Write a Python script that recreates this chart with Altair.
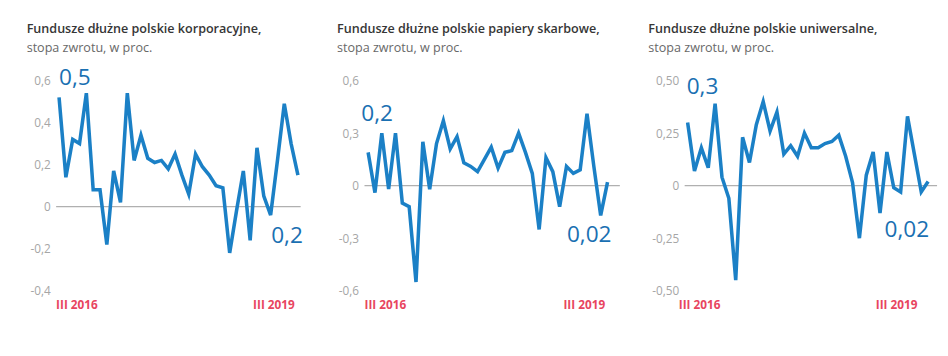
import altair as alt
import pandas as pd

# ---- data ----
titles = [
    "Fundusze dłużne polskie korporacyjne,",
    "Fundusze dłużne polskie papiery skarbowe,",
    "Fundusze dłużne polskie uniwersalne,",
]
subtitle = "stopa zwrotu, w proc."

korporacyjne = [0.52, 0.14, 0.32, 0.30, 0.54, 0.08, 0.08, -0.18, 0.17, 0.02,
                0.54, 0.22, 0.34, 0.23, 0.21, 0.22, 0.18, 0.25, 0.15, 0.06,
                0.25, 0.19, 0.15, 0.10, 0.09, -0.22, -0.02, 0.17, -0.16, 0.28,
                0.05, -0.04, 0.22, 0.49, 0.30, 0.15]
skarbowe = [0.19, -0.04, 0.30, -0.02, 0.30, -0.10, -0.12, -0.55, 0.25, -0.02,
            0.24, 0.37, 0.21, 0.28, 0.13, 0.11, 0.08, 0.15, 0.22, 0.10,
            0.19, 0.20, 0.30, 0.19, 0.07, -0.25, 0.16, 0.08, -0.12, 0.11,
            0.07, 0.09, 0.41, 0.11, -0.17, 0.02]
uniwersalne = [0.30, 0.07, 0.18, 0.085, 0.39, 0.04, -0.06, -0.45, 0.23, 0.11,
               0.29, 0.40, 0.26, 0.35, 0.15, 0.19, 0.14, 0.25, 0.18, 0.18,
               0.20, 0.21, 0.24, 0.14, 0.015, -0.25, 0.05, 0.16, -0.13, 0.16,
               -0.01, -0.03, 0.33, 0.15, -0.03, 0.02]

ticks_1 = [-0.4, -0.2, 0, 0.2, 0.4, 0.6]
ticks_2 = [-0.6, -0.3, 0, 0.3, 0.6]
ticks_3 = [-0.5, -0.25, 0, 0.25, 0.5]

first_labels = ["0,5", "0,2", "0,3"]
first_label_values = [0.61, 0.41, 0.47]
last_labels = ["0,2", "0,02", "0,02"]
last_label_values = [-0.14, -0.28, -0.21]

period_start = "III 2016"
period_end = "III 2019"

# ---- styles ----
BLUE = "#1b80c6"
LABEL_BLUE = "#1a70b2"
RED = "#e8455f"
TICK_GREY = "#a6a6a6"
HEIGHT = 214
FONT = "Open Sans"

panel_styles = [
    dict(width=249, xdom=[-0.43, 35.4], ydom=[-0.4, 0.6], dec=1, title_x=-30,
         first_dx=0, last_dx=5, red_left=0, red_right=-6),
    dict(width=260, xdom=[-0.53, 36.8], ydom=[-0.6, 0.6], dec=1, title_x=-28,
         first_dx=-7, last_dx=4, red_left=0, red_right=-15),
    dict(width=257, xdom=[-0.43, 36.3], ydom=[-0.5, 0.5], dec=2, title_x=-37,
         first_dx=-1, last_dx=1, red_left=-6, red_right=-20),
]
series = [korporacyjne, skarbowe, uniwersalne]
tick_sets = [ticks_1, ticks_2, ticks_3]


def label_expr(dec):
    return ("datum.value == 0 ? '0' : (datum.value < 0 ? '-' : '') + "
            f"replace(format(abs(datum.value), '.{dec}f'), '.', ',')")


def panel(i):
    st = panel_styles[i]
    vals = series[i]
    df = pd.DataFrame({"idx": list(range(len(vals))), "v": vals})
    xs = alt.Scale(domain=st["xdom"], nice=False, zero=False)
    ys = alt.Scale(domain=st["ydom"], nice=False, zero=False)
    yaxis = alt.Axis(values=tick_sets[i], title=None, domain=False, ticks=False,
                     grid=False, labelColor=TICK_GREY, labelFontSize=12,
                     labelFont=FONT, labelPadding=6, labelExpr=label_expr(st["dec"]))

    zero = alt.Chart(pd.DataFrame({"z": [0]})).mark_rule(
        color="#b0b0b0", strokeWidth=1.2).encode(
        y=alt.Y("z:Q", scale=ys, axis=yaxis))
    line = alt.Chart(df).mark_line(color=BLUE, strokeWidth=3.6, strokeJoin="miter").encode(
        x=alt.X("idx:Q", scale=xs, axis=None),
        y=alt.Y("v:Q", scale=ys, axis=yaxis),
    )
    first = alt.Chart(pd.DataFrame({
        "idx": [0], "v": [first_label_values[i]], "t": [first_labels[i]]
    })).mark_text(align="left", baseline="middle", fontSize=23, color=LABEL_BLUE,
                  dx=st["first_dx"], fontWeight=500, font=FONT).encode(
        x=alt.X("idx:Q", scale=xs, axis=None), y=alt.Y("v:Q", scale=ys, axis=yaxis),
        text="t:N")
    last = alt.Chart(pd.DataFrame({
        "idx": [len(vals) - 1], "v": [last_label_values[i]], "t": [last_labels[i]]
    })).mark_text(align="right", baseline="middle", fontSize=23, color=LABEL_BLUE,
                  dx=st["last_dx"], fontWeight=500, font=FONT).encode(
        x=alt.X("idx:Q", scale=xs, axis=None), y=alt.Y("v:Q", scale=ys, axis=yaxis),
        text="t:N")
    red_l = alt.Chart(pd.DataFrame({"t": [period_start]})).mark_text(
        align="left", baseline="middle", fontSize=12, fontWeight="bold", color=RED,
        dx=st["red_left"], font=FONT).encode(
        x=alt.value(0), y=alt.value(HEIGHT + 15), text="t:N")
    red_r = alt.Chart(pd.DataFrame({"t": [period_end]})).mark_text(
        align="right", baseline="middle", fontSize=12, fontWeight="bold", color=RED,
        dx=st["red_right"], font=FONT).encode(
        x=alt.value(st["width"]), y=alt.value(HEIGHT + 15), text="t:N")
    ttl = alt.Chart(pd.DataFrame({"t": [titles[i]]})).mark_text(
        align="left", baseline="middle", fontSize=12.8, fontWeight=600,
        color="#363636", font=FONT).encode(
        x=alt.value(st["title_x"]), y=alt.value(-52), text="t:N")
    sub = alt.Chart(pd.DataFrame({"t": [subtitle]})).mark_text(
        align="left", baseline="middle", fontSize=12.8, color="#686868",
        font=FONT).encode(
        x=alt.value(st["title_x"]), y=alt.value(-33), text="t:N")

    return alt.layer(zero, line, first, last, red_l, red_r, ttl, sub).properties(
        width=st["width"], height=HEIGHT,
    )


chart = alt.hconcat(
    alt.hconcat(panel(0), panel(1), spacing=32),
    panel(2), spacing=28,
).properties(
    padding={"left": 19, "top": 13, "right": 2, "bottom": 10}
).configure(
    font=FONT,
).configure_view(stroke=None)

chart.save("out.html", embed_options={"renderer": "svg", "actions": False})
